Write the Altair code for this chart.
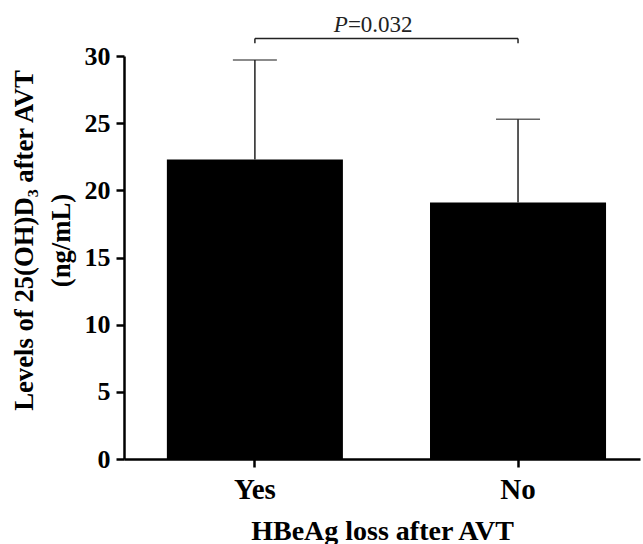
import altair as alt
import pandas as pd

groups = ["Yes", "No"]
means = [22.3, 19.1]
upper = [29.7, 25.3]

bracket_y = [31.3]
bracket_drop = [30.95]
p_label = ["=0.032"]

df = pd.DataFrame({"group": groups, "mean": means, "upper": upper})
br = pd.DataFrame({"x1": [groups[0]], "x2": [groups[1]], "y": bracket_y, "yd": bracket_drop})
ends = pd.DataFrame({"g": groups, "y": bracket_y * 2, "yd": bracket_drop * 2})
ptxt = pd.DataFrame({"g": [groups[0]], "y": bracket_y, "t": p_label})

FONT = "Liberation Serif"

xscale = alt.Scale(domain=groups, paddingInner=0.331, paddingOuter=0.146, align=0.558)
yscale = alt.Scale(domain=[0, 30], nice=False)

x_enc = alt.X(
    "group:N", scale=xscale, sort=groups,
    axis=alt.Axis(
        title="HBeAg loss after AVT", labelAngle=0, labelPadding=8, labelFontSize=29,
        titleFontSize=28, titleFont=FONT, titleFontWeight="bold", titleColor="black",
        titleY=80, titleBaseline="alphabetic",
    ),
)
y_enc = alt.Y(
    "mean:Q", scale=yscale,
    axis=alt.Axis(
        title=["Levels of 25(OH)D\u2083 after AVT", "(ng/mL)"],
        values=[0, 5, 10, 15, 20, 25, 30], labelPadding=6,
        titleFontSize=26.7, titleFont=FONT, titleFontWeight="bold", titleColor="black",
        titleAngle=270, titleX=-92, titleY=184, titleAlign="center",
        titleBaseline="alphabetic", titleLineHeight=37,
    ),
)

base = alt.Chart(df)

err = base.mark_rule(color="#222", strokeWidth=1.5).encode(
    x=alt.X("group:N", scale=xscale, sort=groups),
    y=alt.Y("mean:Q", scale=yscale),
    y2="upper:Q",
)
caps = base.mark_tick(color="#222", thickness=1.5, size=44, orient="horizontal").encode(
    x=alt.X("group:N", scale=xscale, sort=groups),
    y=alt.Y("upper:Q", scale=yscale),
)
bars = base.mark_bar(color="black").encode(x=x_enc, y=y_enc)

hline = alt.Chart(br).mark_rule(color="#222", strokeWidth=1.5).encode(
    x=alt.X("x1:N", scale=xscale, sort=groups),
    x2="x2:N",
    y=alt.Y("y:Q", scale=yscale),
)
vticks = alt.Chart(ends).mark_rule(color="#222", strokeWidth=1.5).encode(
    x=alt.X("g:N", scale=xscale, sort=groups),
    y=alt.Y("y:Q", scale=yscale),
    y2="yd:Q",
)
ptext_p = alt.Chart(ptxt).mark_text(
    text="P", font=FONT, fontSize=23, fontStyle="italic", color="#222",
    align="right", baseline="alphabetic", dx=93, dy=-7,
).encode(x=alt.X("g:N", scale=xscale, sort=groups), y=alt.Y("y:Q", scale=yscale))
ptext_v = alt.Chart(ptxt).mark_text(
    font=FONT, fontSize=23, color="#222",
    align="left", baseline="alphabetic", dx=93, dy=-7,
).encode(x=alt.X("g:N", scale=xscale, sort=groups), y=alt.Y("y:Q", scale=yscale), text="t:N")

chart = alt.layer(bars, err, caps, hline, vticks, ptext_p, ptext_v).properties(
    width=516, height=403,
    background="white",
    autosize=alt.AutoSizeParams(type="none"),
    padding={"left": 124, "top": 56, "right": 3, "bottom": 85},
).configure_view(stroke=None).configure_axis(
    domainColor="black", domainWidth=2.5, tickColor="black", tickWidth=2.5, tickSize=8,
    labelFont=FONT, labelFontWeight="bold", labelFontSize=26, labelColor="black", grid=False,
)

chart.save("out.html", embed_options={"renderer": "svg", "actions": False})
